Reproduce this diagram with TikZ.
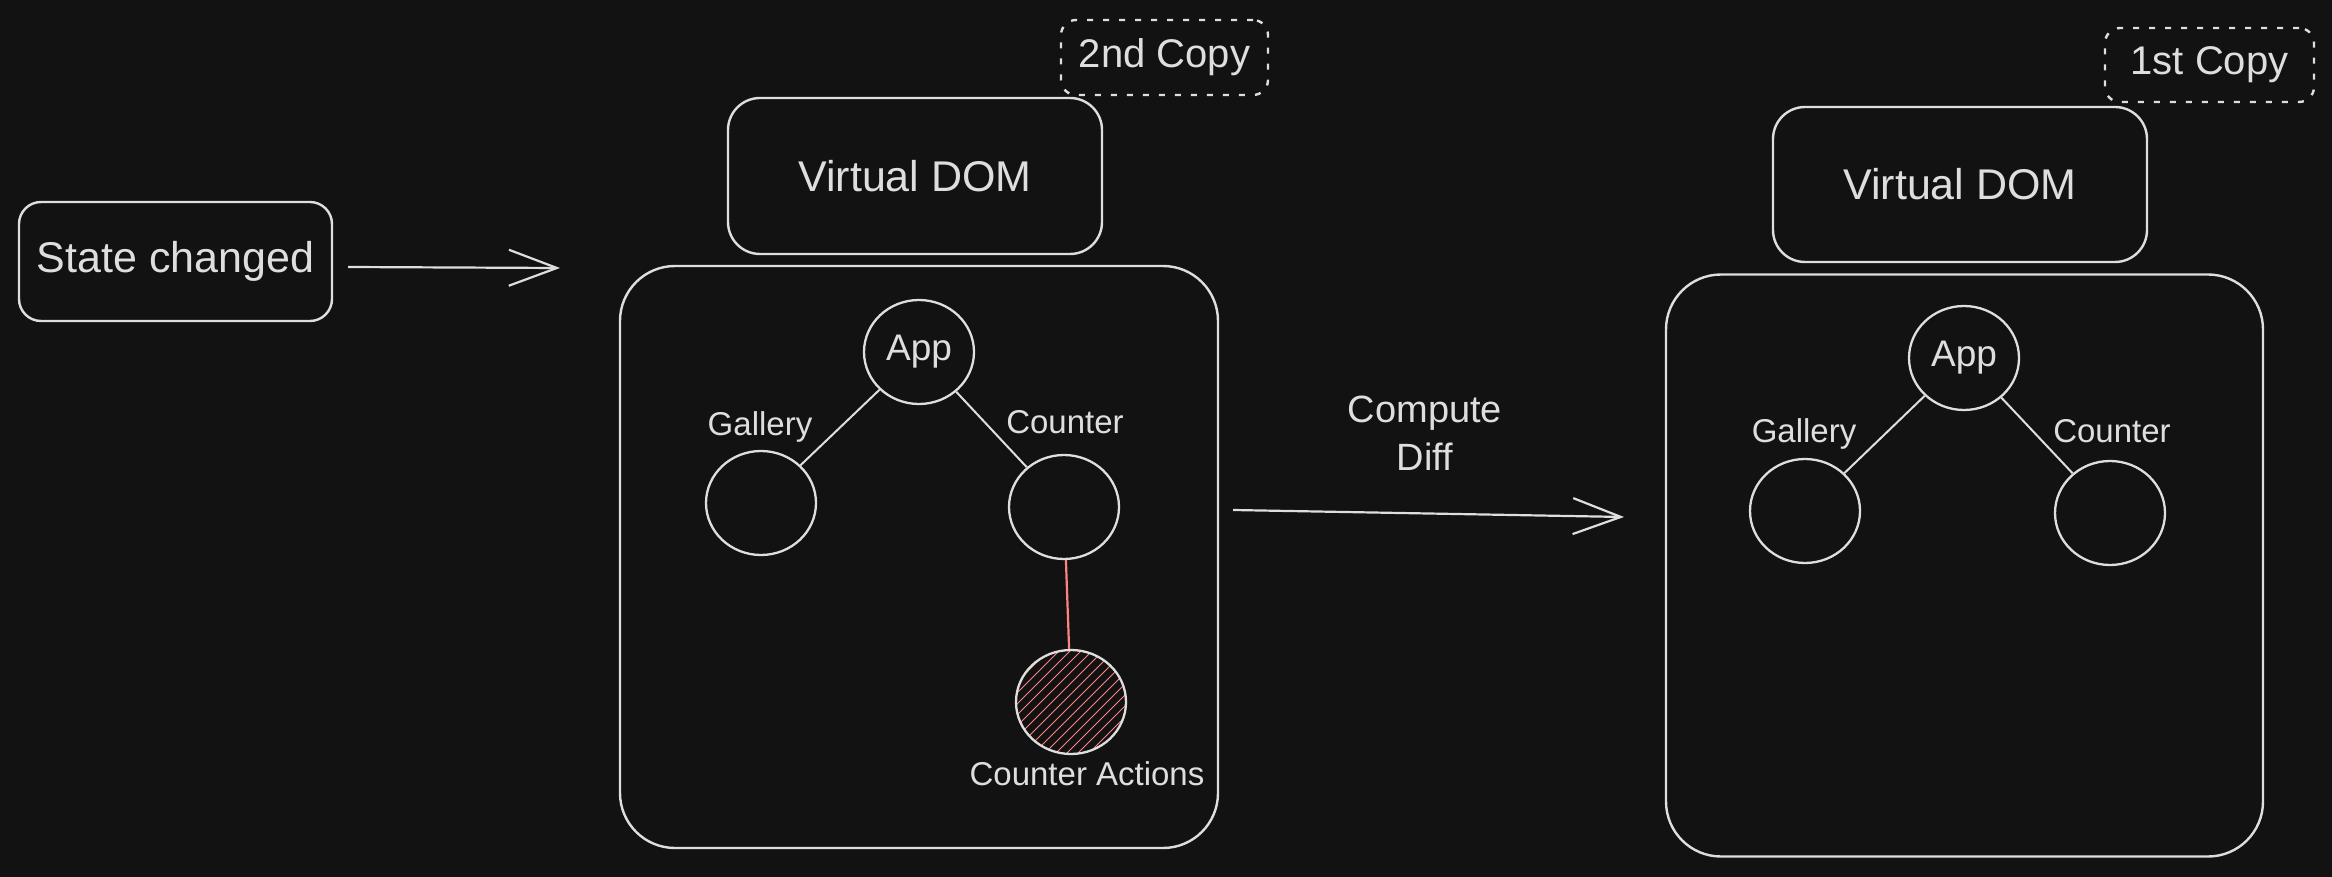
\documentclass[tikz,border=0pt]{standalone}
\usepackage{fontspec}
\setmainfont{Liberation Sans}
\usetikzlibrary{shapes.geometric,arrows.meta}
\definecolor{bg}{RGB}{18,18,18}
\definecolor{ink}{RGB}{222,222,222}
\definecolor{hatchred}{RGB}{255,131,131}
\newcommand{\fsz}[1]{\fontsize{#1pt}{#1pt}\selectfont}
\begin{document}
\begin{tikzpicture}[x=1pt,y=-1pt,
  rbox/.style={draw=ink, line width=2.4pt, text=ink, inner sep=0pt},
  dbox/.style={draw=ink, line width=2.4pt, text=ink, inner sep=0pt, rounded corners=15pt, dash pattern=on 6pt off 10pt},
  tnode/.style={ellipse, draw=ink, line width=2.3pt, text=ink, inner sep=0pt, minimum width=110pt, minimum height=104pt},
  lbl/.style={text=ink, inner sep=0pt, font=\fsz{33}},
  edge/.style={draw=ink, line width=2pt},
  redge/.style={draw=hatchred, line width=2.2pt},
  arr/.style={draw=ink, line width=2.2pt, -{Straight Barb[length=48pt,width=36pt]}},
  hatchline/.style={draw=hatchred, line width=1pt}
]
\fill[bg] (0,0) rectangle (2332,877);
\useasboundingbox (0,0) rectangle (2332,877);

% ---- State changed ----
\node[rbox, rounded corners=22pt, minimum width=313pt, minimum height=119pt, font=\fsz{43}] (sc) at (175.5,261.5) {State changed};
\coordinate (a1s) at (348,267);
\coordinate (a1e) at (560,268);
\draw[arr] (a1s) -- (a1e);

% ---- Left panel (2nd copy) ----
\node[dbox, minimum width=207pt, minimum height=75pt, font=\fsz{40}] (copy2) at (1164.5,57.5) {2nd Copy};
\node[rbox, rounded corners=32pt, minimum width=374pt, minimum height=156pt, font=\fsz{43}] (vdom1) at (915,176) {Virtual DOM};
\node[rbox, rounded corners=55pt, minimum width=598pt, minimum height=582pt] (big1) at (919,557) {};

% hatch of Counter Actions
\begin{scope}
  \clip (1071,702) ellipse [x radius=55, y radius=51];
  \foreach \i in {-140,-129,...,140} {
    \draw[hatchline, shift={(1071,702)}] (\i-70,70) -- (\i+70,-70);
  }
\end{scope}

\node[tnode, font=\fsz{37}] (app1) at (919,352) {App};
\node[tnode] (gal1) at (761,503) {};
\node[tnode] (cnt1) at (1064,507) {};
\node[tnode] (act1) at (1071,702) {};
\node[lbl] (gal1l) at (760,427) {Gallery};
\node[lbl] (cnt1l) at (1065,422) {Counter};
\node[lbl] (act1l) at (1087,774) {Counter Actions};
\draw[edge] (app1) -- (gal1);
\draw[edge] (app1) -- (cnt1);
\draw[redge] (cnt1) -- (act1);

% ---- Compute Diff ----
\node[text=ink, align=center, font=\fsz{38}, inner sep=0pt] (cd) at (1425,433) {Compute\\[10pt]Diff};
\coordinate (a2s) at (1233,510);
\coordinate (a2e) at (1624,517);
\draw[arr] (a2s) -- (a2e);

% ---- Right panel (1st copy) ----
\node[dbox, minimum width=209pt, minimum height=74pt, font=\fsz{40}] (copy1) at (2209.5,65) {1st Copy};
\node[rbox, rounded corners=32pt, minimum width=374pt, minimum height=155pt, font=\fsz{43}] (vdom2) at (1960,184.5) {Virtual DOM};
\node[rbox, rounded corners=55pt, minimum width=597pt, minimum height=582pt] (big2) at (1964.5,565.5) {};
\node[tnode, font=\fsz{37}] (app2) at (1964,358) {App};
\node[tnode] (gal2) at (1805,511) {};
\node[tnode] (cnt2) at (2110,513) {};
\node[lbl] (gal2l) at (1804,434) {Gallery};
\node[lbl] (cnt2l) at (2112,431) {Counter};
\draw[edge] (app2) -- (gal2);
\draw[edge] (app2) -- (cnt2);
\end{tikzpicture}
\end{document}
